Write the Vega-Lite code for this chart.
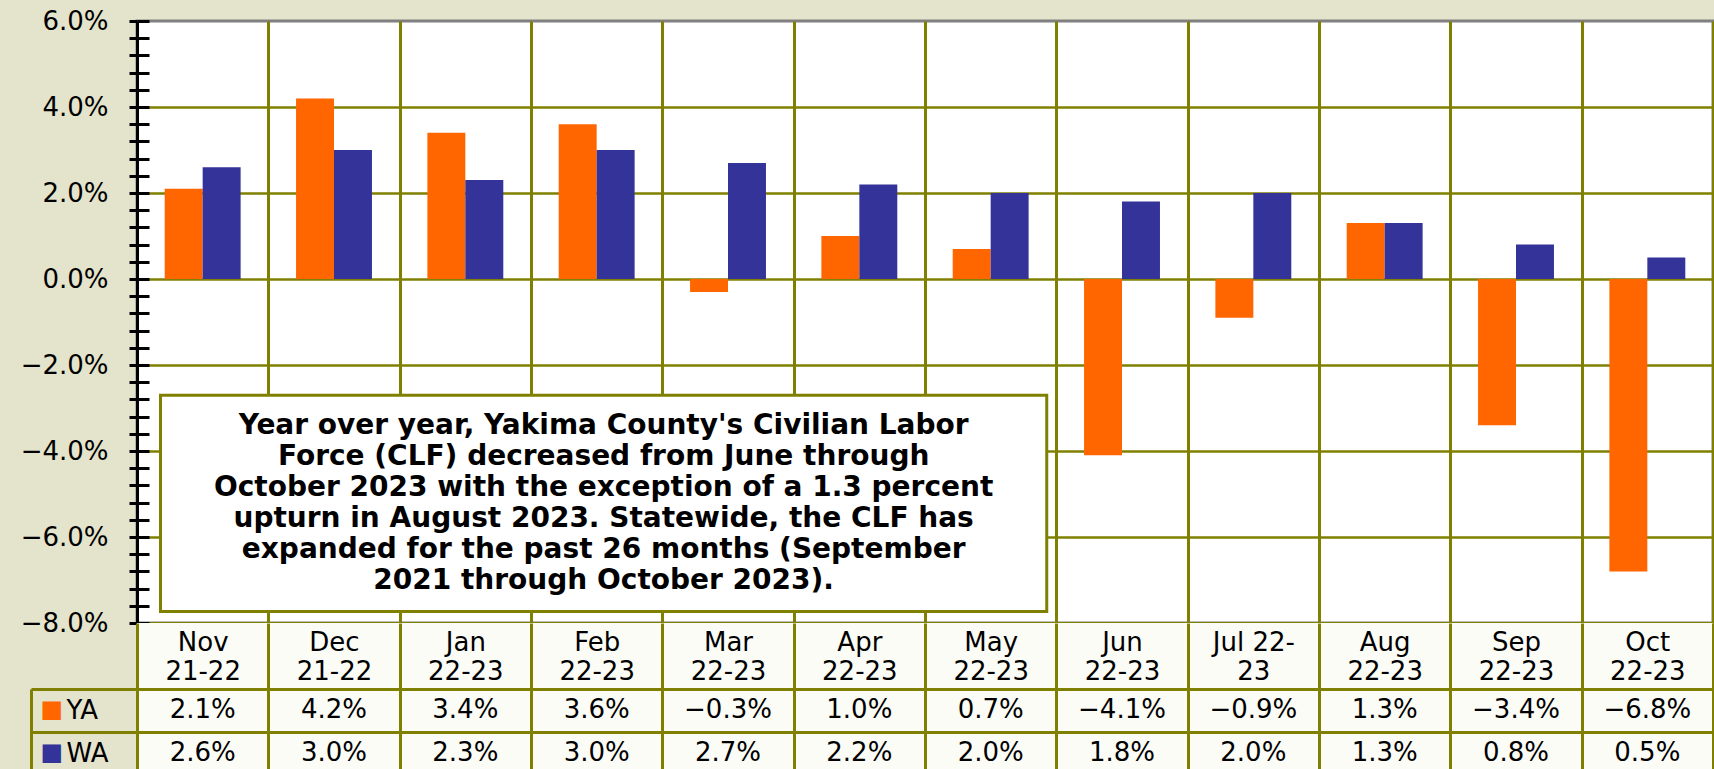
{
  "$schema": "https://vega.github.io/schema/vega-lite/v6.json",
  "background": "#e4e3cb",
  "padding": {"left": 18, "top": 6, "right": 0, "bottom": 0},
  "spacing": 0,
  "bounds": "flush",
  "config": {"font": "DejaVu Sans"},
  "datasets": {
    "bars": [
      {"period": "Nov 21-22", "series": "YA", "value": 0.021},
      {"period": "Nov 21-22", "series": "WA", "value": 0.026},
      {"period": "Dec 21-22", "series": "YA", "value": 0.042},
      {"period": "Dec 21-22", "series": "WA", "value": 0.030},
      {"period": "Jan 22-23", "series": "YA", "value": 0.034},
      {"period": "Jan 22-23", "series": "WA", "value": 0.023},
      {"period": "Feb 22-23", "series": "YA", "value": 0.036},
      {"period": "Feb 22-23", "series": "WA", "value": 0.030},
      {"period": "Mar 22-23", "series": "YA", "value": -0.003},
      {"period": "Mar 22-23", "series": "WA", "value": 0.027},
      {"period": "Apr 22-23", "series": "YA", "value": 0.010},
      {"period": "Apr 22-23", "series": "WA", "value": 0.022},
      {"period": "May 22-23", "series": "YA", "value": 0.007},
      {"period": "May 22-23", "series": "WA", "value": 0.020},
      {"period": "Jun 22-23", "series": "YA", "value": -0.041},
      {"period": "Jun 22-23", "series": "WA", "value": 0.018},
      {"period": "Jul 22-23", "series": "YA", "value": -0.009},
      {"period": "Jul 22-23", "series": "WA", "value": 0.020},
      {"period": "Aug 22-23", "series": "YA", "value": 0.013},
      {"period": "Aug 22-23", "series": "WA", "value": 0.013},
      {"period": "Sep 22-23", "series": "YA", "value": -0.034},
      {"period": "Sep 22-23", "series": "WA", "value": 0.008},
      {"period": "Oct 22-23", "series": "YA", "value": -0.068},
      {"period": "Oct 22-23", "series": "WA", "value": 0.005}
    ],
    "note": [
      {"x": 0.179, "x2": 6.927, "y": -0.02702, "y2": -0.07733,
       "text": ["Year over year, Yakima County's Civilian Labor", "Force (CLF) decreased from June through", "October 2023 with the exception of a 1.3 percent", "upturn in August 2023. Statewide, the CLF has", "expanded for the past 26 months (September", "2021 through October 2023)."]}
    ]
  },
  "vconcat": [
    {
      "width": 1576,
      "height": 602,
      "view": {"stroke": "#808080", "strokeWidth": 3, "fill": "white"},
      "resolve": {"scale": {"x": "independent", "y": "shared"}, "axis": {"y": "independent"}},
      "layer": [
        {
          "data": {"name": "bars"},
          "mark": {"type": "bar"},
          "encoding": {
            "x": {
              "field": "period", "type": "nominal", "sort": null,
              "scale": {"paddingInner": 0, "paddingOuter": 0},
              "axis": {
                "orient": "bottom", "title": null, "labels": false, "ticks": false,
                "domain": true, "domainColor": "#808000", "domainWidth": 3,
                "grid": true, "tickBand": "extent", "gridColor": "#808000", "gridWidth": 3
              }
            },
            "xOffset": {"field": "series", "sort": ["YA", "WA"], "scale": {"paddingInner": 0, "paddingOuter": 0.73}},
            "y": {
              "field": "value", "type": "quantitative",
              "scale": {"domain": [-0.08, 0.06], "nice": false, "zero": false},
              "axis": {
                "orient": "left", "title": null,
                "values": [-0.08, -0.076, -0.072, -0.068, -0.064, -0.06, -0.056, -0.052, -0.048, -0.044, -0.04, -0.036, -0.032, -0.028, -0.024, -0.02, -0.016, -0.012, -0.008, -0.004, 0, 0.004, 0.008, 0.012, 0.016, 0.02, 0.024, 0.028, 0.032, 0.036, 0.04, 0.044, 0.048, 0.052, 0.056, 0.06],
                "domain": true, "domainColor": "black", "domainWidth": 3,
                "ticks": true, "tickColor": "black", "tickWidth": 3, "tickSize": 8,
                "grid": true, "gridColor": "#808000", "gridWidth": 2.5,
                "gridOpacity": {"condition": {"test": "abs(round(datum.value*1000)) % 20 == 0 && datum.value < 0.059", "value": 1}, "value": 0},
                "labelExpr": "abs(round(datum.value*1000)) % 20 == 0 ? format(datum.value, '.1%') : ''",
                "labelFontSize": 26, "labelColor": "black", "labelPadding": 21,
                "labelOverlap": false, "labelBound": false, "labelFlush": false
              }
            },
            "color": {"field": "series", "type": "nominal", "scale": {"domain": ["YA", "WA"], "range": ["#ff6600", "#333399"]}, "legend": null}
          }
        },
        {
          "mark": {"type": "rule", "color": "black", "strokeWidth": 3},
          "encoding": {
            "y": {
              "datum": 0, "type": "quantitative",
              "scale": {"domain": [-0.08, 0.06], "nice": false, "zero": false},
              "axis": {
                "orient": "left", "title": null,
                "values": [-0.08, -0.076, -0.072, -0.068, -0.064, -0.06, -0.056, -0.052, -0.048, -0.044, -0.04, -0.036, -0.032, -0.028, -0.024, -0.02, -0.016, -0.012, -0.008, -0.004, 0, 0.004, 0.008, 0.012, 0.016, 0.02, 0.024, 0.028, 0.032, 0.036, 0.04, 0.044, 0.048, 0.052, 0.056, 0.06],
                "domain": false, "labels": false, "grid": false,
                "ticks": true, "tickColor": "black", "tickWidth": 3, "tickSize": -12
              }
            }
          }
        },
        {
          "data": {"name": "note"},
          "mark": {"type": "rect", "fill": "white", "stroke": "#808000", "strokeWidth": 3},
          "encoding": {
            "x": {"field": "x", "type": "quantitative", "scale": {"domain": [0, 12], "nice": false, "zero": false}, "axis": null},
            "x2": {"field": "x2"},
            "y": {"field": "y", "type": "quantitative", "scale": {"domain": [-0.08, 0.06], "nice": false, "zero": false}, "axis": null},
            "y2": {"field": "y2"}
          }
        },
        {
          "data": {"name": "note"},
          "transform": [
            {"calculate": "(datum.x + datum.x2) / 2", "as": "xc"},
            {"calculate": "(datum.y + datum.y2) / 2", "as": "yc"}
          ],
          "mark": {"type": "text", "align": "center", "baseline": "middle", "dy": -77.5, "fontSize": 28, "fontWeight": "bold", "lineHeight": 31, "color": "black"},
          "encoding": {
            "x": {"field": "xc", "type": "quantitative", "scale": {"domain": [0, 12], "nice": false, "zero": false}, "axis": null},
            "y": {"field": "yc", "type": "quantitative", "scale": {"domain": [-0.08, 0.06], "nice": false, "zero": false}, "axis": null},
            "text": {"field": "text"}
          }
        }
      ]
    },
    {
      "width": 1576,
      "height": 152,
      "data": {"name": "bars"},
      "view": {"stroke": null, "fill": "#fcfcf7"},
      "resolve": {"axis": {"y": "independent"}},
      "layer": [
        {
          "mark": {"type": "text", "fontSize": 26, "color": "black", "align": "center", "baseline": "middle"},
          "encoding": {
            "x": {
              "field": "period", "type": "nominal", "sort": null,
              "scale": {"paddingInner": 0, "paddingOuter": 0},
              "axis": {
                "orient": "top", "title": null, "ticks": false, "domain": false,
                "grid": true, "tickBand": "extent", "gridColor": "#808000", "gridWidth": 3,
                "labelExpr": "isValid(datum.value) ? (datum.value == 'Jul 22-23' ? ['Jul 22-', '23'] : split(datum.value, ' ')) : ''",
                "labelAngle": 0, "labelAlign": "center", "labelBaseline": "top",
                "labelFontSize": 26, "labelColor": "black", "labelLineHeight": 29,
                "labelPadding": -6, "labelOverlap": false, "labelBound": false, "labelFlush": false
              }
            },
            "y": {
              "field": "series", "type": "nominal", "sort": ["YA", "WA"],
              "scale": {"paddingInner": 0, "paddingOuter": 0.7674, "align": 1},
              "axis": {
                "orient": "left", "title": null, "domain": false,
                "ticks": true, "tickBand": "extent", "tickSize": 106, "tickColor": "#808000", "tickWidth": 3,
                "grid": true, "gridColor": "#808000", "gridWidth": 3,
                "labelAlign": "left", "labelBaseline": "middle", "labelPadding": -35,
                "labelFontSize": 26, "labelColor": "black"
              }
            },
            "text": {"field": "value", "type": "quantitative", "format": ".1%"}
          }
        },
        {
          "mark": {"type": "text", "opacity": 0, "text": ""},
          "encoding": {
            "x": {"field": "period", "type": "nominal", "sort": null},
            "y": {
              "field": "series", "type": "nominal", "sort": ["YA", "WA"],
              "axis": {
                "orient": "left", "title": null, "offset": 106,
                "domain": true, "domainColor": "#808000", "domainWidth": 3, "domainDash": [0, 66, 300],
                "ticks": false, "grid": false,
                "labelExpr": "'■'",
                "labelColor": {"condition": {"test": "datum.value == 'YA'", "value": "#ff6600"}, "value": "#333399"},
                "labelAlign": "left", "labelBaseline": "middle", "labelPadding": -9, "labelFontSize": 24
              }
            }
          }
        }
      ]
    }
  ]
}
